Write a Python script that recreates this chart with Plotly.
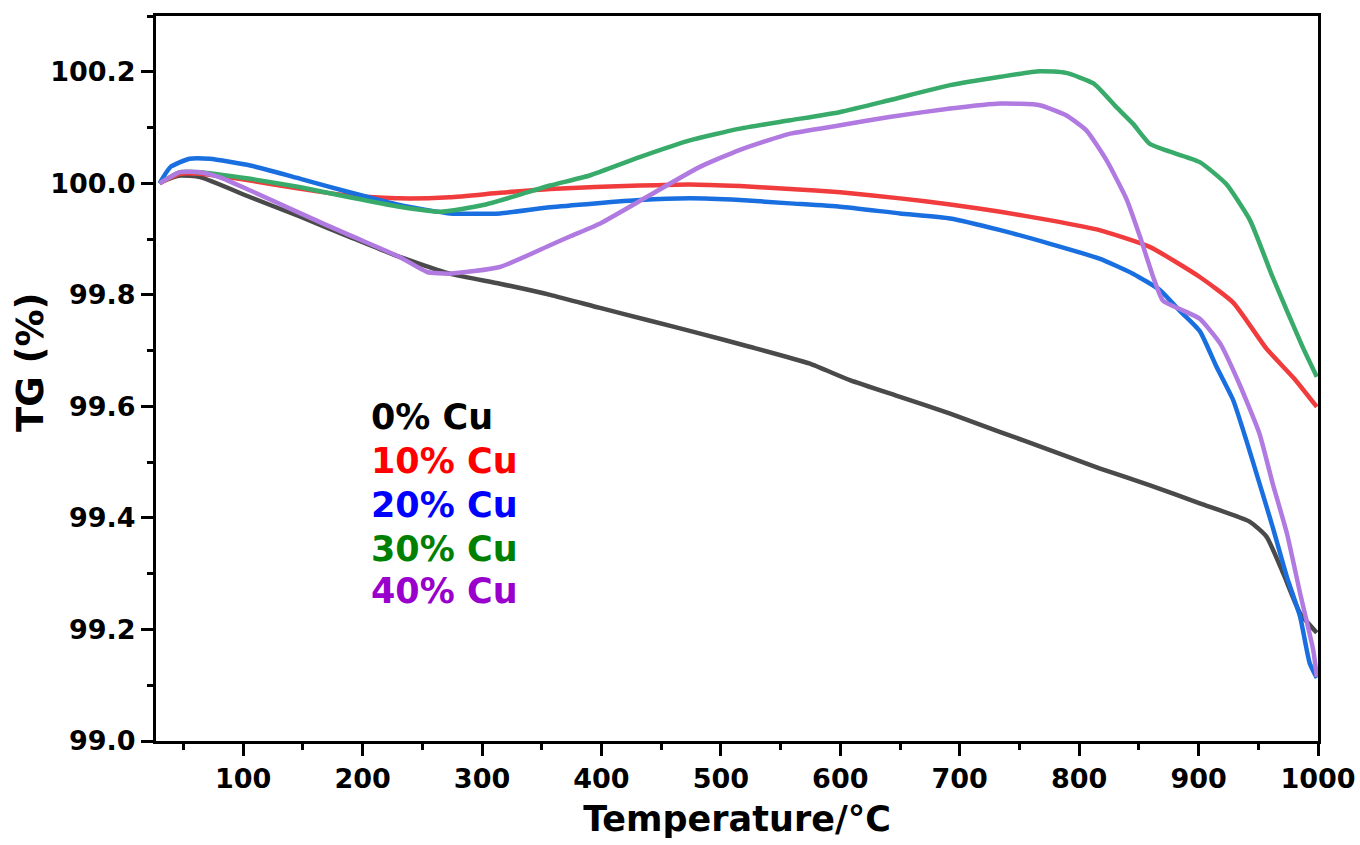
import plotly.graph_objects as go

# 0% Cu
t0 = [30, 47, 64, 106, 148, 189, 231, 273, 315, 357, 398, 440, 482, 524, 574, 608, 650, 692, 734, 775, 817, 860, 901, 943, 957, 971, 985, 999]
g0 = [100.002, 100.014, 100.011, 99.975, 99.94, 99.904, 99.868, 99.838, 99.82, 99.80, 99.777, 99.754, 99.731, 99.707, 99.677, 99.647, 99.617, 99.587, 99.554, 99.522, 99.489, 99.458, 99.426, 99.393, 99.366, 99.30, 99.229, 99.194]

# 10% Cu
t10 = [30, 47, 64, 106, 148, 189, 231, 273, 315, 357, 432, 474, 516, 558, 600, 650, 692, 734, 775, 817, 859, 901, 929, 957, 980, 999]
g10 = [100.0, 100.017, 100.017, 100.005, 99.99, 99.978, 99.973, 99.975, 99.983, 99.99, 99.996, 99.998, 99.995, 99.99, 99.984, 99.973, 99.962, 99.949, 99.934, 99.916, 99.886, 99.832, 99.786, 99.703, 99.65, 99.599]

# 20% Cu
t20 = [30, 39, 55, 72, 106, 148, 189, 231, 273, 315, 357, 432, 474, 516, 558, 600, 650, 692, 734, 775, 817, 845, 868, 884, 901, 915, 929, 940, 951, 962, 974, 985, 993, 999]
g20 = [100.0, 100.029, 100.044, 100.044, 100.032, 100.008, 99.984, 99.961, 99.946, 99.946, 99.957, 99.97, 99.973, 99.97, 99.964, 99.958, 99.946, 99.937, 99.916, 99.892, 99.865, 99.838, 99.808, 99.772, 99.735, 99.671, 99.611, 99.539, 99.462, 99.384, 99.294, 99.223, 99.14, 99.113]

# 30% Cu
t30 = [30, 47, 64, 106, 148, 189, 231, 265, 301, 329, 357, 390, 432, 474, 516, 558, 600, 641, 692, 734, 767, 789, 812, 831, 845, 859, 873, 901, 923, 943, 962, 987, 999]
g30 = [100.0, 100.02, 100.02, 100.008, 99.993, 99.975, 99.958, 99.949, 99.961, 99.978, 99.996, 100.014, 100.047, 100.077, 100.098, 100.113, 100.128, 100.149, 100.176, 100.191, 100.201, 100.198, 100.179, 100.137, 100.107, 100.071, 100.059, 100.038, 99.999, 99.934, 99.832, 99.707, 99.653]

# 40% Cu
t40 = [30, 47, 64, 80, 106, 148, 189, 231, 254, 273, 315, 357, 374, 399, 440, 482, 516, 558, 600, 641, 692, 734, 767, 789, 806, 823, 840, 851, 862, 870, 887, 901, 918, 934, 951, 962, 974, 985, 996, 999]
g40 = [100.0, 100.02, 100.02, 100.011, 99.987, 99.946, 99.907, 99.868, 99.841, 99.838, 99.85, 99.889, 99.905, 99.928, 99.978, 100.029, 100.06, 100.089, 100.104, 100.119, 100.134, 100.143, 100.14, 100.122, 100.095, 100.041, 99.97, 99.904, 99.832, 99.79, 99.772, 99.757, 99.713, 99.641, 99.551, 99.462, 99.372, 99.265, 99.163, 99.115]

labels = ["0% Cu", "10% Cu", "20% Cu", "30% Cu", "40% Cu"]
line_colors = ["#4a4a4a", "#f03c3c", "#1a6fe0", "#38ab6a", "#b07ae0"]
text_colors = ["#000000", "#ff0000", "#0000ff", "#008000", "#9900cc"]

series = [(t0, g0), (t10, g10), (t20, g20), (t30, g30), (t40, g40)]

fig = go.Figure()
for (t, g), name, c in zip(series, labels, line_colors):
    fig.add_trace(go.Scatter(x=t, y=g, mode="lines", name=name,
                             line=dict(color=c, width=4.5, shape="spline", smoothing=0.5)))

font_family = "DejaVu Sans"
leg_y = [0.447, 0.386, 0.326, 0.265, 0.207]
for name, tc, yy in zip(labels, text_colors, leg_y):
    fig.add_annotation(x=0.183, y=yy, xref="paper", yref="paper", text=name,
                       showarrow=False, xanchor="left", yanchor="middle",
                       font=dict(family=font_family, size=35, color=tc, weight="bold"))

# y-axis title as rotated text
fig.add_annotation(x=30, y=363, xref="paper", yref="paper", text="TG (%)",
                   showarrow=False, textangle=-90, xanchor="center", yanchor="middle",
                   font=dict(family=font_family, size=37, color="black", weight="bold"))
fig.layout.annotations[-1].update(xref="paper", yref="paper",
                                  x=(30 - 156) / 1162, y=(741 - 363) / 725)

axis_common = dict(showline=True, linecolor="black", linewidth=3, mirror=True,
                   showgrid=False, zeroline=False, ticks="outside", ticklen=12,
                   tickwidth=2.5, tickcolor="black", automargin=False,
                   tickfont=dict(family=font_family, size=27, color="black", weight="bold"))

fig.update_xaxes(range=[27, 1000], tick0=100, dtick=100,
                 minor=dict(ticks="outside", ticklen=6, tickwidth=2.5, tickcolor="black", dtick=50, tick0=0),
                 title=dict(text="Temperature/°C", standoff=14,
                            font=dict(family=font_family, size=35, color="black", weight="bold")),
                 **axis_common)
fig.update_yaxes(range=[99.0, 100.3], tick0=99.0, dtick=0.2, tickformat=".1f",
                 minor=dict(ticks="outside", ticklen=6, tickwidth=2.5, tickcolor="black", dtick=0.1),
                 **axis_common)

fig.update_layout(width=1360, height=845, showlegend=False,
                  paper_bgcolor="white", plot_bgcolor="white",
                  margin=dict(l=156, r=42, t=16, b=104))

fig.write_html("out.html")
